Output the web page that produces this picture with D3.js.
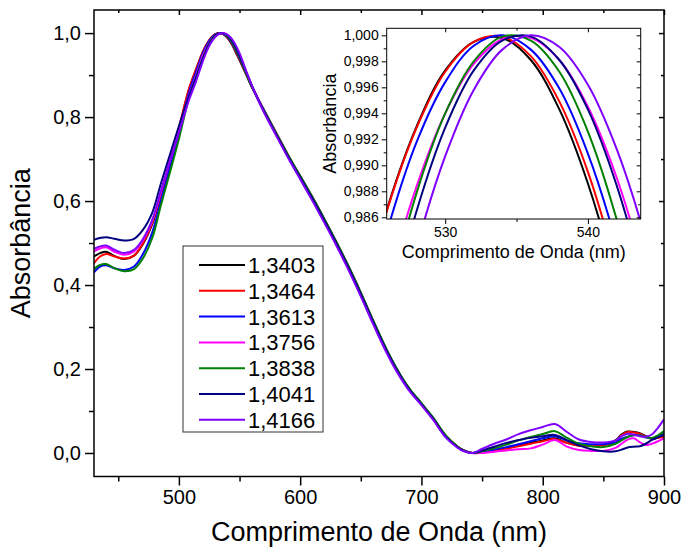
<!DOCTYPE html>
<html>
<head>
<meta charset="utf-8">
<script src="https://cdn.jsdelivr.net/npm/d3@7"></script>
<style>
    body { margin: 0; background: #fff; }
    svg { font-family: "Liberation Sans", Arial, sans-serif; }
</style>
</head>
<body>
<div class="chart"></div>
<script>
// wavelength grid (nm), shared by all spectra
var wavelength = [430, 435, 440, 447, 455, 463, 470, 478, 485, 492, 500, 508, 514, 520,
    524, 526, 528, 530, 532, 534, 536, 538, 540, 542, 544, 546,
    550, 556, 560, 570, 580, 590, 600, 610, 620, 630, 640, 650, 660, 670, 680, 690, 700,
    705, 710, 720, 730, 735, 742,
    750, 760, 770, 780, 790, 800, 810, 820, 830, 840, 850, 860, 865, 870, 875, 880, 885, 890, 895, 900];

// normalized absorbance, one array per refractive index
var n13403 = [.468, .476, .479, .469, .462, .470, .496, .545, .612, .686, .770, .862, .912, .957,
    .9788, .9869, .9930, .9973, .9995, .9998, .9981, .9943, .9886, .9810, .9713, .9597,
    .936, .898, .872, .818, .764, .710, .660, .610, .557, .502, .444, .382, .317, .254, .199, .153, .118,
    .100, .082, .041, .015, .006, .000,
    .002, .006, .012, .018, .024, .030, .035, .024, .018, .018, .019, .030, .044, .051, .050, .047, .040, .034, .037, .043];
var n13464 = [.452, .468, .474, .468, .463, .470, .498, .548, .615, .690, .775, .865, .913, .957,
    .9786, .9868, .9929, .9972, .9995, .9999, .9984, .9949, .9895, .9821, .9728, .9616,
    .937, .899, .873, .816, .762, .708, .657, .607, .554, .499, .441, .379, .314, .252, .197, .152, .117,
    .099, .081, .040, .014, .006, .000,
    .001, .005, .010, .016, .022, .028, .033, .024, .017, .017, .018, .028, .042, .050, .049, .046, .039, .034, .036, .038];
var n13613 = [.430, .444, .447, .440, .436, .444, .472, .525, .598, .672, .760, .856, .906, .954,
    .9766, .9852, .9918, .9964, .9992, 1.000, .9989, .9959, .9909, .9840, .9752, .9644,
    .940, .901, .874, .814, .759, .705, .654, .603, .550, .495, .437, .375, .310, .248, .194, .150, .116,
    .097, .079, .038, .013, .005, .000,
    .003, .008, .014, .021, .028, .035, .040, .030, .023, .021, .021, .026, .034, .039, .042, .042, .037, .035, .040, .046];
var n13756 = [.480, .487, .490, .479, .472, .480, .505, .553, .620, .690, .765, .850, .897, .948,
    .9717, .9810, .9884, .9940, .9978, .9997, .9998, .9981, .9945, .9891, .9818, .9727,
    .948, .904, .876, .817, .762, .707, .657, .607, .554, .499, .441, .379, .314, .252, .197, .152, .117,
    .098, .080, .039, .014, .006, .000,
    .000, .003, .006, .009, .011, .020, .031, .015, .007, .005, .005, .012, .022, .032, .035, .026, .019, .022, .028, .035];
var n13838 = [.438, .448, .450, .440, .433, .438, .462, .512, .588, .662, .748, .842, .893, .942,
    .9692, .9796, .9879, .9940, .9980, .9999, .9996, .9972, .9926, .9859, .9771, .9662,
    .942, .900, .873, .817, .762, .709, .659, .609, .556, .501, .443, .381, .316, .254, .199, .154, .119,
    .101, .083, .042, .015, .006, .000,
    .004, .011, .020, .030, .038, .045, .052, .036, .022, .016, .014, .022, .030, .038, .043, .042, .038, .036, .042, .052];
var n14041 = [.508, .512, .514, .510, .506, .510, .530, .572, .640, .705, .778, .848, .892, .941,
    .9677, .9781, .9865, .9929, .9973, .9996, .9999, .9981, .9943, .9885, .9807, .9708,
    .946, .904, .876, .815, .760, .706, .656, .606, .553, .498, .440, .378, .313, .251, .196, .151, .116,
    .098, .080, .039, .013, .005, .000,
    .006, .015, .024, .031, .036, .040, .043, .030, .018, .009, .004, .004, .008, .013, .015, .016, .022, .031, .037, .043];
var n14166 = [.486, .492, .494, .484, .476, .484, .508, .555, .622, .690, .762, .838, .884, .935,
    .9635, .9746, .9837, .9907, .9958, .9989, 1.000, .9991, .9962, .9913, .9845, .9756,
    .952, .906, .876, .812, .757, .703, .652, .601, .548, .493, .435, .373, .308, .246, .192, .148, .114,
    .096, .078, .037, .012, .004, .000,
    .010, .022, .032, .045, .054, .062, .069, .050, .032, .026, .025, .030, .040, .046, .044, .040, .039, .044, .060, .080];

var seriesLabels = ["1,3403", "1,3464", "1,3613", "1,3756", "1,3838", "1,4041", "1,4166"];
var seriesValues = [n13403, n13464, n13613, n13756, n13838, n14041, n14166];
var seriesColors = ["#000000", "#ff0000", "#0000ff", "#ff00ff", "#008000", "#000080", "#8000ff"];

// tick values
var mainXMajor = [500, 600, 700, 800, 900];
var mainXMinor = [450, 550, 650, 750, 850];
var mainYMajor = [0, 0.2, 0.4, 0.6, 0.8, 1.0];
var mainYMinor = [0.1, 0.3, 0.5, 0.7, 0.9];
var insetXMajor = [530, 540];
var insetXMinor = [535];
var insetYMajor = [0.986, 0.988, 0.990, 0.992, 0.994, 0.996, 0.998, 1.000];
var insetYMinor = [0.987, 0.989, 0.991, 0.993, 0.995, 0.997, 0.999];

var locale = d3.formatLocale({decimal: ",", thousands: ".", grouping: [3], currency: ["", ""]});

var svg = d3.select(".chart")
    .append("svg")
    .attr("width", 683)
    .attr("height", 550);

// draws a framed panel with ticks on all four sides
function drawFrame(g, x, y, w, h, opt) {
    var bottom = g.append("g").attr("transform", `translate(0, ${h})`);
    bottom.call(d3.axisBottom(x).tickValues(opt.xMajor).tickSize(opt.major).tickPadding(opt.pad)
        .tickFormat(d3.format("d")));
    bottom.append("g").call(d3.axisBottom(x).tickValues(opt.xMinor).tickSize(opt.minor).tickFormat(""));

    var left = g.append("g");
    left.call(d3.axisLeft(y).tickValues(opt.yMajor).tickSize(opt.major).tickPadding(opt.pad)
        .tickFormat(locale.format(opt.yFmt)));
    left.append("g").call(d3.axisLeft(y).tickValues(opt.yMinor).tickSize(opt.minor).tickFormat(""));

    // inward ticks on top and right, no labels
    var top = g.append("g");
    top.call(d3.axisTop(x).tickValues(opt.xMajor).tickSize(-opt.inner).tickFormat(""));
    top.append("g").call(d3.axisTop(x).tickValues(opt.xMinor).tickSize(-opt.inner * 0.6).tickFormat(""));
    var right = g.append("g").attr("transform", `translate(${w}, 0)`);
    right.call(d3.axisRight(y).tickValues(opt.yMajor).tickSize(-opt.inner).tickFormat(""));
    right.append("g").call(d3.axisRight(y).tickValues(opt.yMinor).tickSize(-opt.inner * 0.6).tickFormat(""));

    g.selectAll(".domain").remove();
    g.selectAll(".tick line").attr("stroke", "#000").attr("stroke-width", opt.stroke);
    g.selectAll(".tick text").attr("fill", "#000").style("font-size", opt.font + "px")
        .style("font-family", "'Liberation Sans', Arial, sans-serif");

    g.append("rect")
        .attr("width", w)
        .attr("height", h)
        .attr("fill", "none")
        .attr("stroke", "#000")
        .attr("stroke-width", opt.stroke);
}

function drawSpectra(g, x, y, clipId, w) {
    var line = d3.line()
        .x((d, i) => x(wavelength[i]))
        .y(d => y(d))
        .curve(d3.curveCatmullRom.alpha(0.5));

    g.append("clipPath").attr("id", clipId)
        .append("rect").attr("width", w).attr("height", y.range()[0]);

    g.append("g").attr("clip-path", `url(#${clipId})`)
        .selectAll("path")
        .data(seriesValues)
        .enter()
        .append("path")
        .attr("fill", "none")
        .attr("stroke", (d, i) => seriesColors[i])
        .attr("stroke-width", 2)
        .attr("d", line);
}

// main chart
var plot = {left: 94, top: 10, width: 570, height: 466.5};
var chartGroup = svg.append("g")
    .attr("transform", `translate(${plot.left}, ${plot.top})`);

var xLinearScale = d3.scaleLinear().domain([430, 900]).range([0, plot.width]);
var yLinearScale = d3.scaleLinear().domain([-0.056, 1.055]).range([plot.height, 0]);

drawSpectra(chartGroup, xLinearScale, yLinearScale, "clipMain", plot.width);
drawFrame(chartGroup, xLinearScale, yLinearScale, plot.width, plot.height, {
    xMajor: mainXMajor, xMinor: mainXMinor, yMajor: mainYMajor, yMinor: mainYMinor,
    major: 9, minor: 5, inner: 5, pad: 4, yFmt: ".1f", font: 20, stroke: 1.5
});

chartGroup.append("text")
    .attr("x", plot.width / 2)
    .attr("y", plot.height + 64)
    .attr("text-anchor", "middle")
    .style("font-size", "27px")
    .text("Comprimento de Onda (nm)");

chartGroup.append("text")
    .attr("transform", "rotate(-90)")
    .attr("x", -plot.height / 2)
    .attr("y", -64)
    .attr("text-anchor", "middle")
    .style("font-size", "27px")
    .text("Absorbância");

// legend
var legend = svg.append("g").attr("transform", "translate(183, 246)");
legend.append("rect")
    .attr("width", 140)
    .attr("height", 186)
    .attr("fill", "#fff")
    .attr("stroke", "#333")
    .attr("stroke-width", 1);
var rows = legend.selectAll(".row")
    .data(seriesLabels)
    .enter()
    .append("g")
    .attr("transform", (d, i) => `translate(0, ${19 + i * 25.8})`);
rows.append("line")
    .attr("x1", 16).attr("x2", 62)
    .attr("stroke", (d, i) => seriesColors[i])
    .attr("stroke-width", 2);
rows.append("text")
    .attr("x", 65)
    .attr("dy", "0.36em")
    .style("font-size", "22px")
    .text(d => d);

// inset zoom on the peak
var inset = {left: 386.7, top: 28.3, width: 254, height: 190.7};
var insetGroup = svg.append("g")
    .attr("transform", `translate(${inset.left}, ${inset.top})`);
insetGroup.append("rect")
    .attr("width", inset.width)
    .attr("height", inset.height)
    .attr("fill", "#fff");

var xInset = d3.scaleLinear().domain([525.9, 543.7]).range([0, inset.width]);
var yInset = d3.scaleLinear().domain([0.98587, 1.00054]).range([inset.height, 0]);

drawSpectra(insetGroup, xInset, yInset, "clipInset", inset.width);
drawFrame(insetGroup, xInset, yInset, inset.width, inset.height, {
    xMajor: insetXMajor, xMinor: insetXMinor, yMajor: insetYMajor, yMinor: insetYMinor,
    major: 5, minor: 3, inner: 4, pad: 3, yFmt: ".3f", font: 14, stroke: 1
});

insetGroup.append("text")
    .attr("x", inset.width / 2)
    .attr("y", inset.height + 39)
    .attr("text-anchor", "middle")
    .style("font-size", "18px")
    .text("Comprimento de Onda (nm)");

insetGroup.append("text")
    .attr("transform", "rotate(-90)")
    .attr("x", -inset.height / 2)
    .attr("y", -51)
    .attr("text-anchor", "middle")
    .style("font-size", "18px")
    .text("Absorbância");
</script>
</body>
</html>
